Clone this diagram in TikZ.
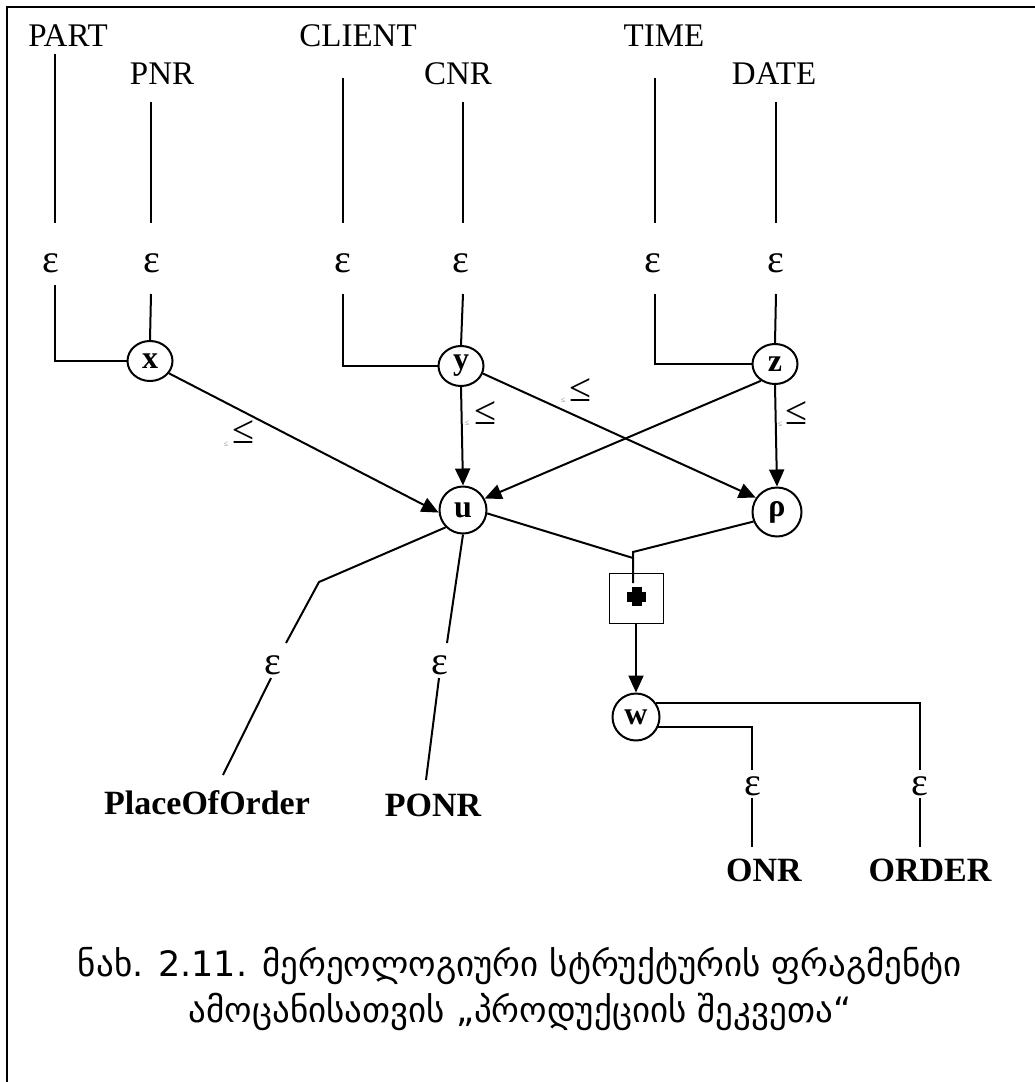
\documentclass[tikz,border=0pt]{standalone}
\usepackage{fontspec}
\setmainfont{Liberation Serif}
\newfontfamily\geofont{DejaVu Sans}
\usetikzlibrary{arrows.meta,shapes.geometric}
\tikzset{
  conn/.style={line width=2pt},
  arr/.style={conn,-{Triangle[length=17pt,width=15pt]}},
  ell/.style={draw,ellipse,line width=2pt,minimum width=45pt,minimum height=40pt,inner sep=0pt,font=\bfseries\fontsize{32}{34}\selectfont},
  circ/.style={draw,circle,line width=2pt,minimum size=47pt,inner sep=0pt,font=\bfseries\fontsize{32}{34}\selectfont},
  lbl/.style={font=\fontsize{33}{36}\selectfont,inner sep=0pt},
  blbl/.style={font=\bfseries\fontsize{34}{36}\selectfont,inner sep=0pt},
  eps/.style={font=\fontsize{40}{42}\selectfont,inner sep=0pt},
  le/.style={font=\fontsize{40}{42}\selectfont,inner sep=0pt},
  tinyle/.style={font=\fontsize{8}{9}\selectfont,text=gray,inner sep=0pt},
  plusbox/.style={draw,line width=1pt,minimum width=54pt,minimum height=50pt,inner sep=0pt},
  caption/.style={font=\geofont\fontsize{35}{46}\selectfont,align=center,inner sep=0pt},
}
\begin{document}
\begin{tikzpicture}[x=1pt,y=-1pt]
\useasboundingbox (0,0) rectangle (1035,1082);
% frame
\draw[line width=2pt] (7,1082) -- (7,7) -- (1035,7);

% top labels
\node[lbl] (part) at (68,36) {PART};
\node[lbl] (pnr) at (162,74) {PNR};
\node[lbl] (client) at (358,36) {CLIENT};
\node[lbl] (cnr) at (458,74) {CNR};
\node[lbl] (time) at (664,36) {TIME};
\node[lbl] (date) at (774,74) {DATE};

% epsilon labels upper
\node[eps] (e1) at (51,263) {ε};
\node[eps] (e2) at (152,263) {ε};
\node[eps] (e3) at (343,263) {ε};
\node[eps] (e4) at (461,263) {ε};
\node[eps] (e5) at (653,263) {ε};
\node[eps] (e6) at (776,263) {ε};

% circles
\node[ell] (x) at (150,361) {x};
\node[ell] (y) at (461,366) {y};
\node[ell] (z) at (775,364) {z};
\node[circ] (u) at (463,510) {u};
\node[circ,minimum size=49pt] (rho) at (777,512) {ρ};
\node[circ] (w) at (636,717) {w};

% coordinates for line ends
\coordinate (t1) at (55,54);   \coordinate (b1) at (55,223);  \coordinate (c1) at (55,285);
\coordinate (t2) at (151,102); \coordinate (b2) at (151,223); \coordinate (c2) at (151,294);
\coordinate (t3) at (343,78);  \coordinate (b3) at (343,223); \coordinate (c3) at (343,294);
\coordinate (t4) at (463,102); \coordinate (b4) at (463,223); \coordinate (c4) at (463,294);
\coordinate (t5) at (655,78);  \coordinate (b5) at (655,223); \coordinate (c5) at (655,294);
\coordinate (t6) at (776,102); \coordinate (b6) at (776,223); \coordinate (c6) at (776,294);

\draw[conn] (t1) -- (b1);
\draw[conn] (c1) -- (c1 |- x.west) -- (x.west);
\draw[conn] (t2) -- (b2);
\draw[conn] (c2) -- (x.north);
\draw[conn] (t3) -- (b3);
\draw[conn] (c3) -- (c3 |- y.west) -- (y.west);
\draw[conn] (t4) -- (b4);
\draw[conn] (c4) -- (y.north);
\draw[conn] (t5) -- (b5);
\draw[conn] (c5) -- (c5 |- z.west) -- (z.west);
\draw[conn] (t6) -- (b6);
\draw[conn] (c6) -- (z.north);

% arrows
\draw[arr] (x.-33) -- (u.186);
\draw[arr] (y.south) -- (u.north);
\draw[arr] (y.-19) -- (rho.146);
\draw[arr] (z.230) -- (u.28);
\draw[arr] (z.south) -- (rho.north);

% <= labels
\node[le] (l1) at (243,432) {≤};
\node[tinyle] (s1) at (226,444) {≤};
\node[le] (l2) at (485,413) {≤};
\node[tinyle] (s2) at (467,423) {≤};
\node[le] (l3) at (580,390) {≤};
\node[tinyle] (s3) at (563,400) {≤};
\node[le] (l4) at (796,413) {≤};
\node[tinyle] (s4) at (780,424) {≤};

% join and plus box
\coordinate (j1) at (633,558);
\coordinate (j2) at (633,552);
\coordinate (j3) at (633,583);
\node[plusbox] (pb) at (636,598) {};
\draw[conn] (u.-8) -- (j1);
\draw[conn] (rho.202) -- (j2) -- (j3);
\fill (627,591.5) rectangle (646,601.5);
\fill (631.5,587) rectangle (641.5,606);
\draw[arr] (pb.south) -- (w.north);

% lower left branches
\coordinate (k1) at (319,582);
\coordinate (k2) at (286,643);
\node[eps] (e7) at (273,665) {ε};
\coordinate (k3) at (271,678);
\coordinate (k4) at (223,775);
\node[blbl] (poo) at (207,803) {PlaceOfOrder};
\draw[conn] (u.225) -- (k1) -- (k2);
\draw[conn] (k3) -- (k4);

\coordinate (m1) at (447,643);
\node[eps] (e8) at (440,665) {ε};
\coordinate (m2) at (439,678);
\coordinate (m3) at (426,780);
\node[blbl] (ponr) at (433,805) {PONR};
\draw[conn] (u.south) -- (m1);
\draw[conn] (m2) -- (m3);

% right branches from w
\coordinate (o1) at (752,770);
\node[eps] (e9) at (753,786) {ε};
\coordinate (o2) at (752,798);
\coordinate (o3) at (752,847);
\node[blbl] (onr) at (764,870) {ONR};
\draw[conn] (w.-25) -- (w.-25 -| o1) -- (o1);
\draw[conn] (o2) -- (o3);

\coordinate (r1) at (920,770);
\node[eps] (e10) at (920,786) {ε};
\coordinate (r2) at (920,798);
\coordinate (r3) at (920,847);
\node[blbl] (order) at (930,870) {ORDER};
\draw[conn] (w.35) -- (w.35 -| r1) -- (r1);
\draw[conn] (r2) -- (r3);

% caption
\node[caption,anchor=base] (cap) at (520,1022) {ნახ. 2.11. მერეოლოგიური სტრუქტურის ფრაგმენტი\\ამოცანისათვის „პროდუქციის შეკვეთა“};
\end{tikzpicture}
\end{document}
